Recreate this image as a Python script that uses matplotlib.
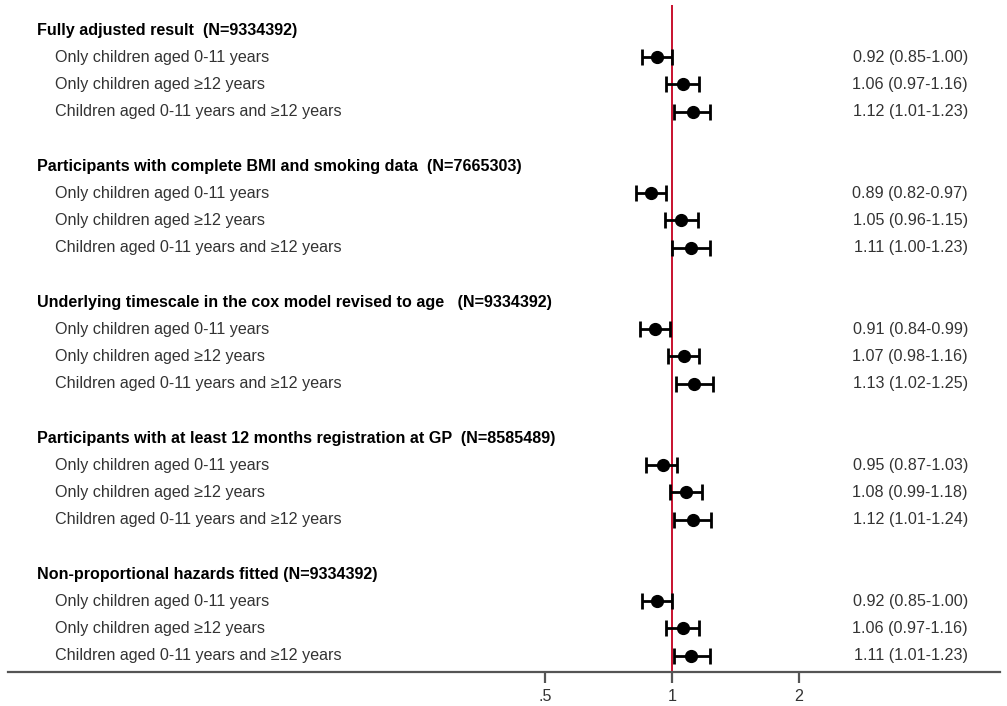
import matplotlib.pyplot as plt
import numpy as np

plt.rcParams['font.family'] = ['Liberation Sans', 'DejaVu Sans']

headers = ['Fully adjusted result  (N=9334392)',
           'Participants with complete BMI and smoking data  (N=7665303)',
           'Underlying timescale in the cox model revised to age   (N=9334392)',
           'Participants with at least 12 months registration at GP  (N=8585489)',
           'Non-proportional hazards fitted (N=9334392)']
rows = ['Only children aged 0-11 years',
        'Only children aged \u226512 years',
        'Children aged 0-11 years and \u226512 years']

hr  = [[0.92, 1.06, 1.12], [0.89, 1.05, 1.11], [0.91, 1.07, 1.13],
       [0.95, 1.08, 1.12], [0.92, 1.06, 1.11]]
low = [[0.85, 0.97, 1.01], [0.82, 0.96, 1.00], [0.84, 0.98, 1.02],
       [0.87, 0.99, 1.01], [0.85, 0.97, 1.01]]
upp = [[1.00, 1.16, 1.23], [0.97, 1.15, 1.23], [0.99, 1.16, 1.25],
       [1.03, 1.18, 1.24], [1.00, 1.16, 1.23]]

W, H = 1007, 706
fig = plt.figure(figsize=(W/100, H/100), dpi=100)
ax = fig.add_axes([8/W, 1-672/H, 992/W, 667/H])

px = 127.0   # pixels per doubling
ax.set_xscale('log')
ax.set_xlim(2**((8-672)/px), 2**((1000-672)/px))
step = 27.2
ax.set_ylim((672-30)/step, (5-30)/step)

fs = 11.6
xh = (37-8)/992
xr = (55-8)/992
xe = (968-8)/992
tr = ax.get_yaxis_transform()

ax.axvline(1, color='#c8102e', lw=1.4, zorder=1)

for g in range(len(headers)):
    k0 = g*5
    ax.text(xh, k0, headers[g], transform=tr, fontsize=fs, fontweight='bold',
            va='center', ha='left', color='black')
    for i in range(3):
        k = k0 + 1 + i
        ax.text(xr, k, rows[i], transform=tr, fontsize=fs, va='center',
                ha='left', color='#333333')
        ax.text(xe, k, '%.2f (%.2f-%.2f)' % (hr[g][i], low[g][i], upp[g][i]),
                transform=tr, fontsize=fs, va='center', ha='right', color='#333333')
        ax.errorbar(hr[g][i], k,
                    xerr=[[hr[g][i]-low[g][i]], [upp[g][i]-hr[g][i]]],
                    fmt='o', color='black', ms=8.5, elinewidth=2,
                    capsize=5.5, capthick=2, zorder=3)

for s in ['top', 'left', 'right']:
    ax.spines[s].set_visible(False)
ax.spines['bottom'].set_color('#555555')
ax.spines['bottom'].set_linewidth(1.6)
ax.set_yticks([])
ax.set_xticks([0.5, 1, 2])
ax.set_xticklabels(['.5', '1', '2'])
ax.xaxis.set_minor_locator(plt.NullLocator())
ax.tick_params(axis='x', length=8, width=1.6, color='#555555', labelsize=fs,
               labelcolor='#333333', pad=4)

fig.savefig('out.png', dpi=100)
